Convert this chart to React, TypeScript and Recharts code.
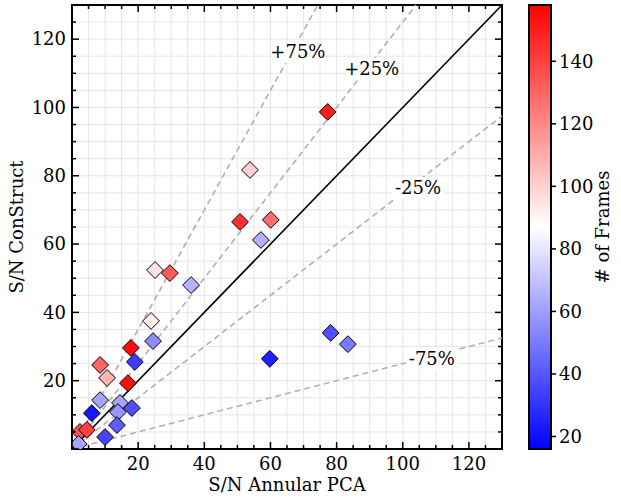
import React from 'react';
import {
  ScatterChart,
  Scatter,
  XAxis,
  YAxis,
  CartesianGrid,
  ReferenceLine,
  ReferenceDot,
  ReferenceArea,
} from 'recharts';

// ---- data ----
const snAnnularPCA = [77.3, 53.8, 50.8, 60.1, 57.1, 25.1, 29.6, 36.0, 23.9, 24.5, 17.8, 19.0, 8.5, 10.6, 8.5, 6.0, 16.9, 14.5, 18.1, 13.9, 13.6, 10.0, 2.4, 4.5, 2.0, 78.2, 83.4, 59.8];
const snConStruct = [98.7, 81.7, 66.5, 67.1, 61.2, 52.4, 51.5, 48.0, 37.5, 31.6, 29.6, 25.5, 24.6, 20.8, 14.3, 10.5, 19.3, 13.5, 12.0, 10.8, 7.0, 3.5, 5.0, 5.6, 1.5, 34.0, 30.7, 26.4];
const numFrames = [150, 100, 145, 128, 65, 95, 132, 66, 92, 55, 155, 33, 130, 108, 62, 22, 155, 62, 38, 58, 42, 35, 135, 140, 62, 38, 50, 25];

const gridTicks = [0, 5, 10, 15, 20, 25, 30, 35, 40, 45, 50, 55, 60, 65, 70, 75, 80, 85, 90, 95, 100, 105, 110, 115, 120, 125, 130];
const majorTickLabels = [20, 40, 60, 80, 100, 120];
const colorbarTicks = [20, 40, 60, 80, 100, 120, 140];

const ratioFactors = [1.75, 1.25, 0.75, 0.25];
const ratioLabels = ['+75%', '+25%', '-25%', '-75%'];
const ratioLabelX = [68.3, 90.6, 104.6, 108.8];
const ratioLabelY = [116.2, 111.3, 76.4, 26.4];

// ---- layout constants ----
const W = 621;
const H = 500;
const PLOT_LEFT = 72;
const PLOT_RIGHT = 502;
const PLOT_TOP = 5;
const PLOT_BOTTOM = 449;
const DOMAIN_MAX = 130;
const CB_X = 529;
const CB_W = 22;
const VMIN = 16;
const VMAX = 158;
const FONT = 'DejaVu Serif';
const FS = 18;

function bwr(v: number): string {
  let t = (v - VMIN) / (VMAX - VMIN);
  t = Math.max(0, Math.min(1, t));
  let r: number, g: number, b: number;
  if (t < 0.5) {
    r = 2 * t; g = 2 * t; b = 1;
  } else {
    r = 1; g = 2 * (1 - t); b = 2 * (1 - t);
  }
  const h = (x: number) => Math.round(x * 255).toString(16).padStart(2, '0');
  return '#' + h(r) + h(g) + h(b);
}

const data = snAnnularPCA.map((x, i) => ({ x, y: snConStruct[i], frames: numFrames[i] }));

const ratioLines = ratioFactors.map((f, i) => {
  const end = f >= 1 ? { x: DOMAIN_MAX / f, y: DOMAIN_MAX } : { x: DOMAIN_MAX, y: DOMAIN_MAX * f };
  return { f, end, label: ratioLabels[i], lx: ratioLabelX[i], ly: ratioLabelY[i] };
});

const Diamond = (props: any) => {
  const { cx, cy, payload } = props;
  if (cx == null || cy == null) return null;
  const r = 8.4;
  return (
    <path
      d={`M${cx},${cy - r}L${cx + r},${cy}L${cx},${cy + r}L${cx - r},${cy}Z`}
      fill={bwr(payload.frames)}
      stroke="#000"
      strokeWidth={1}
    />
  );
};

const XTick = (props: any) => {
  const { x, payload } = props;
  const v = payload.value;
  const major = v % 20 === 0;
  const len = major ? 7 : 4;
  const showLabel = majorTickLabels.includes(v);
  return (
    <g>
      <line x1={x} y1={PLOT_BOTTOM} x2={x} y2={PLOT_BOTTOM - len} stroke="#000" strokeWidth={1.5} />
      <line x1={x} y1={PLOT_TOP} x2={x} y2={PLOT_TOP + len} stroke="#000" strokeWidth={1.5} />
      {showLabel && (
        <text x={x} y={PLOT_BOTTOM + 21} textAnchor="middle" fontFamily={FONT} fontSize={FS} fill="#000">
          {v}
        </text>
      )}
    </g>
  );
};

const YTick = (props: any) => {
  const { y, payload } = props;
  const v = payload.value;
  const major = v % 20 === 0;
  const len = major ? 7 : 4;
  const showLabel = majorTickLabels.includes(v);
  return (
    <g>
      <line x1={PLOT_LEFT} y1={y} x2={PLOT_LEFT + len} y2={y} stroke="#000" strokeWidth={1.5} />
      <line x1={PLOT_RIGHT} y1={y} x2={PLOT_RIGHT - len} y2={y} stroke="#000" strokeWidth={1.5} />
      {showLabel && (
        <text x={PLOT_LEFT - 6} y={y} dy="0.35em" textAnchor="end" fontFamily={FONT} fontSize={FS} fill="#000">
          {v}
        </text>
      )}
    </g>
  );
};

const RatioLabel = (text: string) => (props: any) => {
  const vb = props.viewBox || {};
  const cx = (vb.x ?? 0) + (vb.width ?? 0) / 2;
  const cy = (vb.y ?? 0) + (vb.height ?? 0) / 2;
  const w = text.length * 11.5 + 6;
  const h = 22;
  return (
    <g>
      <rect x={cx - w / 2} y={cy - h / 2} width={w} height={h} fill="#fff" />
      <text x={cx} y={cy} dy="0.35em" textAnchor="middle" fontFamily={FONT} fontSize={FS} fill="#000">
        {text}
      </text>
    </g>
  );
};

const cbY = (v: number) => PLOT_BOTTOM - ((v - VMIN) / (VMAX - VMIN)) * (PLOT_BOTTOM - PLOT_TOP);

export default function App() {
  return (
    <div style={{ position: 'absolute', left: 0, top: 0, width: W, height: H, background: '#fff' }}>
      <ScatterChart
        width={W}
        height={H}
        margin={{ top: PLOT_TOP, right: W - PLOT_RIGHT, bottom: 0, left: 0 }}
      >
        <CartesianGrid stroke="#e6e6e6" strokeWidth={1} />
        <XAxis
          type="number"
          dataKey="x"
          domain={[0, DOMAIN_MAX]}
          ticks={gridTicks}
          interval={0}
          height={H - PLOT_BOTTOM}
          tickSize={0}
          tickMargin={0}
          tickLine={false}
          axisLine={false}
          tick={<XTick />}
          allowDataOverflow
        />
        <YAxis
          type="number"
          dataKey="y"
          domain={[0, DOMAIN_MAX]}
          ticks={gridTicks}
          interval={0}
          width={PLOT_LEFT}
          tickSize={0}
          tickMargin={0}
          tickLine={false}
          axisLine={false}
          tick={<YTick />}
          allowDataOverflow
        />
        {ratioLines.map((r) => (
          <ReferenceLine
            key={r.label}
            segment={[{ x: 0, y: 0 }, r.end]}
            stroke="#b0b0b0"
            strokeWidth={1.6}
            strokeDasharray="6 4"
          />
        ))}
        <ReferenceLine
          segment={[{ x: 0, y: 0 }, { x: DOMAIN_MAX, y: DOMAIN_MAX }]}
          stroke="#000"
          strokeWidth={1.6}
        />
        {ratioLines.map((r) => (
          <ReferenceDot
            key={'lbl' + r.label}
            x={r.lx}
            y={r.ly}
            r={1}
            fill="none"
            stroke="none"
            label={RatioLabel(r.label)}
          />
        ))}
        <Scatter data={data} shape={<Diamond />} isAnimationActive={false} />
        <ReferenceArea
          x1={0}
          x2={DOMAIN_MAX}
          y1={0}
          y2={DOMAIN_MAX}
          fill="none"
          fillOpacity={0}
          stroke="#000"
          strokeWidth={2}
        />
      </ScatterChart>
      <svg
        width={W}
        height={H}
        style={{ position: 'absolute', left: 0, top: 0, pointerEvents: 'none' }}
      >
        <defs>
          <linearGradient id="bwrGrad" x1="0" y1="1" x2="0" y2="0">
            <stop offset="0%" stopColor="#0000ff" />
            <stop offset="50%" stopColor="#ffffff" />
            <stop offset="100%" stopColor="#ff0000" />
          </linearGradient>
        </defs>
        <text
          x={(PLOT_LEFT + PLOT_RIGHT) / 2}
          y={491}
          textAnchor="middle"
          fontFamily={FONT}
          fontSize={FS}
          fill="#000"
        >
          S/N Annular PCA
        </text>
        <text
          transform={`translate(17, ${(PLOT_TOP + PLOT_BOTTOM) / 2}) rotate(-90)`}
          textAnchor="middle"
          dy="0.35em"
          fontFamily={FONT}
          fontSize={FS}
          fill="#000"
        >
          S/N ConStruct
        </text>
        <rect
          x={CB_X}
          y={PLOT_TOP}
          width={CB_W}
          height={PLOT_BOTTOM - PLOT_TOP}
          fill="url(#bwrGrad)"
          stroke="#000"
          strokeWidth={2}
        />
        {colorbarTicks.map((v) => (
          <g key={v}>
            <line
              x1={CB_X + CB_W}
              y1={cbY(v)}
              x2={CB_X + CB_W + 5}
              y2={cbY(v)}
              stroke="#000"
              strokeWidth={1.5}
            />
            <text
              x={CB_X + CB_W + 8}
              y={cbY(v)}
              dy="0.35em"
              fontFamily={FONT}
              fontSize={FS}
              fill="#000"
            >
              {v}
            </text>
          </g>
        ))}
        <text
          transform={`translate(603, ${(PLOT_TOP + PLOT_BOTTOM) / 2}) rotate(-90)`}
          textAnchor="middle"
          dy="0.35em"
          fontFamily={FONT}
          fontSize={FS}
          fill="#000"
        >
          # of Frames
        </text>
      </svg>
    </div>
  );
}
